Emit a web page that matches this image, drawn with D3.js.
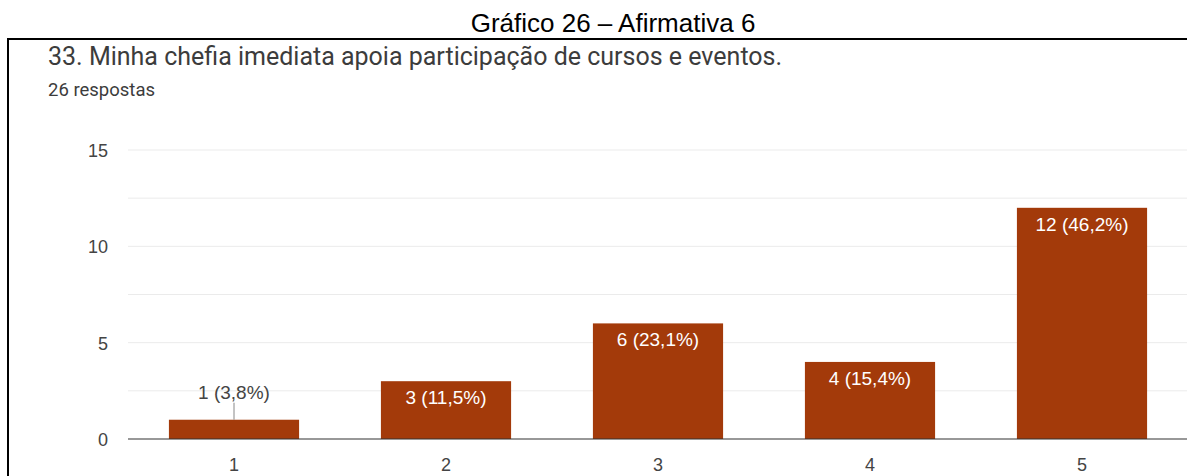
<!DOCTYPE html>
<html>
<head>
<meta charset="utf-8">
<script src="https://cdn.jsdelivr.net/npm/d3@7"></script>
<style>
  html, body { margin: 0; padding: 0; background: #fff; }
  svg { display: block; }
</style>
</head>
<body>
<svg id="chart" width="1187" height="476"></svg>
<script>
// chart data
const categories = ['1', '2', '3', '4', '5'];
const counts = [1, 3, 6, 4, 12];
const barLabels = ['1 (3,8%)', '3 (11,5%)', '6 (23,1%)', '4 (15,4%)', '12 (46,2%)'];
const yTicks = [0, 5, 10, 15];
const gridValues = [2.5, 5, 7.5, 10, 12.5, 15];

const svg = d3.select('#chart');
const W = 1187, H = 476;
const sans = 'Liberation Sans, Arial, sans-serif';

// caption above the frame
svg.append('text')
  .attr('x', 613).attr('y', 32)
  .attr('text-anchor', 'middle')
  .attr('font-family', sans)
  .attr('font-size', 26)
  .attr('fill', '#000')
  .text('Gráfico 26 – Afirmativa 6');

// frame (top + left edge)
svg.append('path')
  .attr('d', `M8,${H} L8,39 L${W},39`)
  .attr('fill', 'none')
  .attr('stroke', '#000')
  .attr('stroke-width', 2);

svg.append('text')
  .attr('x', 48).attr('y', 65)
  .attr('font-family', 'Roboto, sans-serif')
  .attr('font-size', 25)
  .attr('fill', '#3c3c3c')
  .text('33. Minha chefia imediata apoia participação de cursos e eventos.');

svg.append('text')
  .attr('x', 48).attr('y', 96)
  .attr('font-family', 'Roboto, sans-serif')
  .attr('font-size', 18.5)
  .attr('fill', '#3c3c3c')
  .text('26 respostas');

const margin = { left: 128, right: 0, top: 150, bottom: 37 };
const innerW = W - margin.left + 1;
const innerH = H - margin.top - margin.bottom;

const g = svg.append('g').attr('transform', `translate(${margin.left},${margin.top})`);

const x = d3.scaleBand().domain(categories).range([0, innerW])
  .paddingInner(0.386).paddingOuter(0.193);
const y = d3.scaleLinear().domain([0, 15]).range([innerH, 0]);

// gridlines
g.selectAll('.grid').data(gridValues).enter().append('line')
  .attr('x1', 0).attr('x2', innerW)
  .attr('y1', d => y(d)).attr('y2', d => y(d))
  .attr('stroke', '#ebebeb').attr('stroke-width', 1);

// y tick labels
g.selectAll('.ytick').data(yTicks).enter().append('text')
  .attr('x', -20).attr('y', d => y(d) + 7)
  .attr('text-anchor', 'end')
  .attr('font-family', sans)
  .attr('font-size', 18)
  .attr('fill', '#444')
  .text(d => d);

// bars
const barColor = '#a33a0a';
g.selectAll('.bar').data(counts).enter().append('rect')
  .attr('x', (d, i) => x(categories[i]))
  .attr('y', d => y(d))
  .attr('width', x.bandwidth())
  .attr('height', d => innerH - y(d))
  .attr('fill', barColor);

// baseline
g.append('line')
  .attr('x1', 0).attr('x2', innerW)
  .attr('y1', y(0)).attr('y2', y(0))
  .attr('stroke', '#333').attr('stroke-width', 1.2);

// x tick labels
g.selectAll('.xtick').data(categories).enter().append('text')
  .attr('x', d => x(d) + x.bandwidth() / 2)
  .attr('y', innerH + 32)
  .attr('text-anchor', 'middle')
  .attr('font-family', sans)
  .attr('font-size', 18)
  .attr('fill', '#444')
  .text(d => d);

// value labels: inside bar if tall enough, else above with a leader line
counts.forEach((d, i) => {
  const cx = x(categories[i]) + x.bandwidth() / 2;
  const inside = innerH - y(d) > 30;
  if (inside) {
    g.append('text')
      .attr('x', cx).attr('y', y(d) + 23)
      .attr('text-anchor', 'middle')
      .attr('font-family', sans)
      .attr('font-size', 19)
      .attr('fill', '#fff')
      .text(barLabels[i]);
  } else {
    g.append('line')
      .attr('x1', cx).attr('x2', cx)
      .attr('y1', y(d) - 17).attr('y2', y(d))
      .attr('stroke', '#888').attr('stroke-width', 1);
    g.append('text')
      .attr('x', cx).attr('y', y(d) - 21)
      .attr('text-anchor', 'middle')
      .attr('font-family', sans)
      .attr('font-size', 19)
      .attr('fill', '#444')
      .text(barLabels[i]);
  }
});
</script>
</body>
</html>
